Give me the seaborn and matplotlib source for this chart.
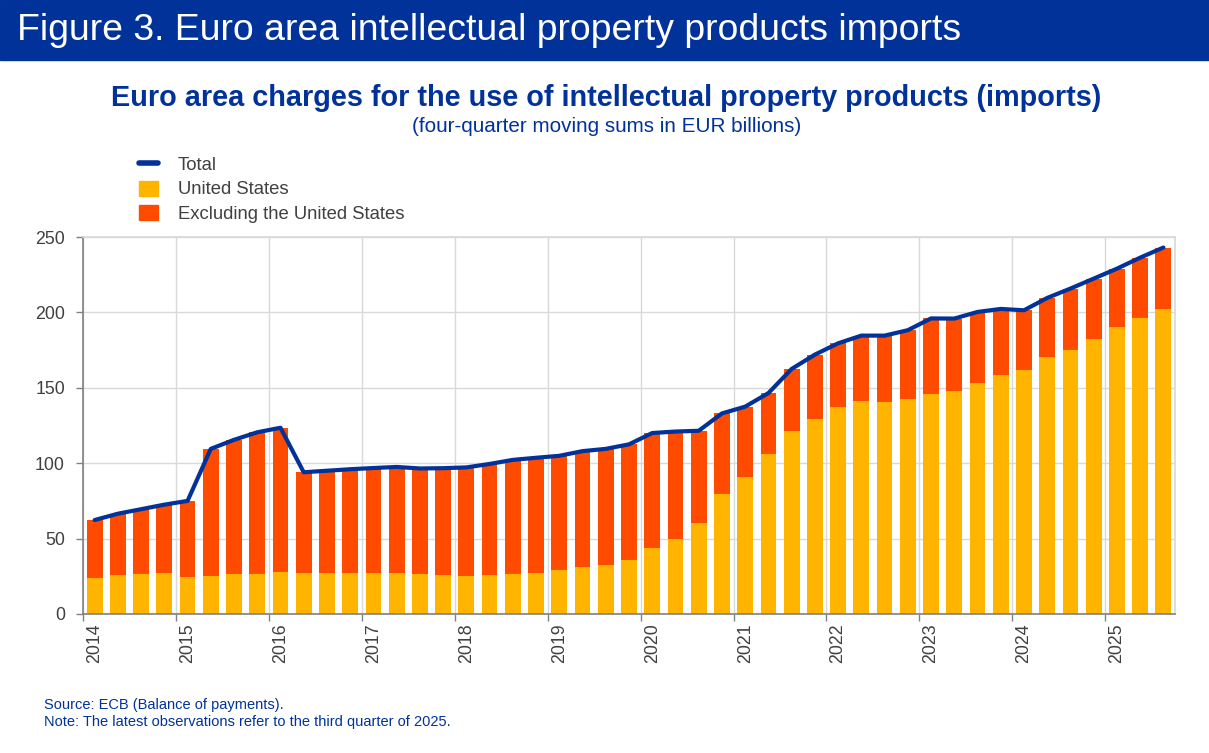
import matplotlib
matplotlib.use("Agg")
import matplotlib.pyplot as plt
from matplotlib.lines import Line2D
from matplotlib.patches import Patch, Rectangle
import numpy as np
import pandas as pd
import seaborn as sns

# quarterly observations 2014Q1 - 2025Q3, EUR billions
quarters = [f"{y}Q{q}" for y in range(2014, 2026) for q in range(1, 5)][:47]
year_labels = [str(y) for y in range(2014, 2026)]

total = [62.3, 66.5, 69.5, 72.5, 75.0, 109.5, 115.5, 120.5, 123.5, 94.0,
         95.0, 96.0, 96.8, 97.5, 96.5, 96.7, 97.2, 99.5, 102.2, 103.6,
         104.9, 108.0, 109.5, 112.5, 120.0, 121.0, 121.5, 133.0, 137.5, 146.5,
         162.5, 172.0, 179.5, 184.6, 184.6, 188.2, 196.0, 195.9, 200.3, 202.3,
         201.4, 209.6, 215.8, 222.4, 229.0, 236.3, 243.0]
us = [24.1, 25.6, 26.3, 27.4, 24.7, 25.4, 26.3, 26.5, 28.0, 27.2,
      27.0, 27.4, 27.4, 27.4, 26.5, 25.6, 25.2, 25.8, 26.5, 27.4,
      29.2, 30.9, 32.5, 35.8, 43.7, 49.7, 60.1, 79.5, 91.0, 106.0,
      121.2, 129.2, 137.1, 141.3, 140.5, 142.4, 146.2, 147.8, 153.0, 158.8,
      162.1, 170.3, 175.1, 182.2, 190.1, 196.1, 202.0]

NAVY = "#003299"
YELLOW = "#FFB400"
ORANGE = "#FF4B00"
GREY_TXT = "#404040"

sns.set_theme(style="white")
plt.rcParams['font.family'] = ['Liberation Sans', 'DejaVu Sans']

W, H = 1209, 753
fig = plt.figure(figsize=(W / 100, H / 100), dpi=100)
ax = fig.add_axes([83 / W, 1 - 614 / H, (1175 - 83) / W, (614 - 237) / H])

df = pd.DataFrame({"quarter": quarters, "total": total, "us": us})
df["pos"] = np.arange(len(df))

# stacked look: full total in orange, US share drawn over it in yellow
sns.barplot(data=df, x="quarter", y="total", color=ORANGE, saturation=1,
            width=0.68, errorbar=None, ax=ax, zorder=2, linewidth=0, edgecolor="none")
sns.barplot(data=df, x="quarter", y="us", color=YELLOW, saturation=1,
            width=0.68, errorbar=None, ax=ax, zorder=2, linewidth=0, edgecolor="none")
sns.lineplot(data=df, x="pos", y="total", color=NAVY, lw=3, ax=ax,
             zorder=3, solid_joinstyle="round")

ax.set_xlim(-0.5, 46.5)
ax.set_ylim(0, 250)
ax.set_yticks(np.arange(0, 251, 50))
# year boundaries carry the ticks and grid, labels sit over each first quarter
ax.set_xticks(np.arange(-0.5, 47, 4))
ax.set_xticklabels([])
ax.set_xticks(np.arange(0, 47, 4), minor=True)
ax.set_xticklabels(year_labels, minor=True, rotation=90)
ax.set_xlabel("")
ax.set_ylabel("")
ax.set_axisbelow(True)
ax.grid(True, which="major", color="#d9d9d9", lw=1)
ax.tick_params(axis="both", which="major", labelsize=12.8, labelcolor=GREY_TXT,
               color="#808080", length=5, width=1, direction="out",
               bottom=True, left=True)
ax.tick_params(axis="y", pad=8)
ax.tick_params(axis="x", which="minor", length=0, pad=7, labelsize=12.8,
               labelcolor=GREY_TXT, bottom=True)
for side in ["left", "bottom"]:
    ax.spines[side].set_color("#808080")
    ax.spines[side].set_linewidth(1.2)
for side in ["top", "right"]:
    ax.spines[side].set_color("#d9d9d9")

# header band
fig.add_artist(Rectangle((0, 1 - 60 / H), 1, 60 / H, transform=fig.transFigure,
                         color=NAVY, zorder=0))
fig.text(17 / W, 1 - 31 / H, "Figure 3. Euro area intellectual property products imports",
         color="white", fontsize=26.9, va="center", ha="left")

fig.text(606 / W, 1 - 98 / H,
         "Euro area charges for the use of intellectual property products (imports)",
         color=NAVY, fontsize=20.8, fontweight="bold", ha="center", va="center")
fig.text(607 / W, 1 - 126 / H, "(four-quarter moving sums in EUR billions)",
         color=NAVY, fontsize=14.9, ha="center", va="center")

handles = [Line2D([0], [0], color=NAVY, lw=4),
           Patch(color=YELLOW), Patch(color=ORANGE)]
labels = ["Total", "United States", "Excluding the United States"]
fig.legend(handles, labels, loc="upper left", bbox_to_anchor=(139 / W, 1 - 156 / H),
           frameon=False, fontsize=13.3, labelcolor=GREY_TXT, handlelength=1.03,
           handleheight=0.86, handletextpad=1.08, labelspacing=0.37, borderpad=0,
           borderaxespad=0)

fig.text(44 / W, 1 - 705 / H, "Source: ECB (Balance of payments).",
         color=NAVY, fontsize=10.5, va="center")
fig.text(44 / W, 1 - 722 / H,
         "Note: The latest observations refer to the third quarter of 2025.",
         color=NAVY, fontsize=10.5, va="center")

fig.savefig("out.png", dpi=100)
